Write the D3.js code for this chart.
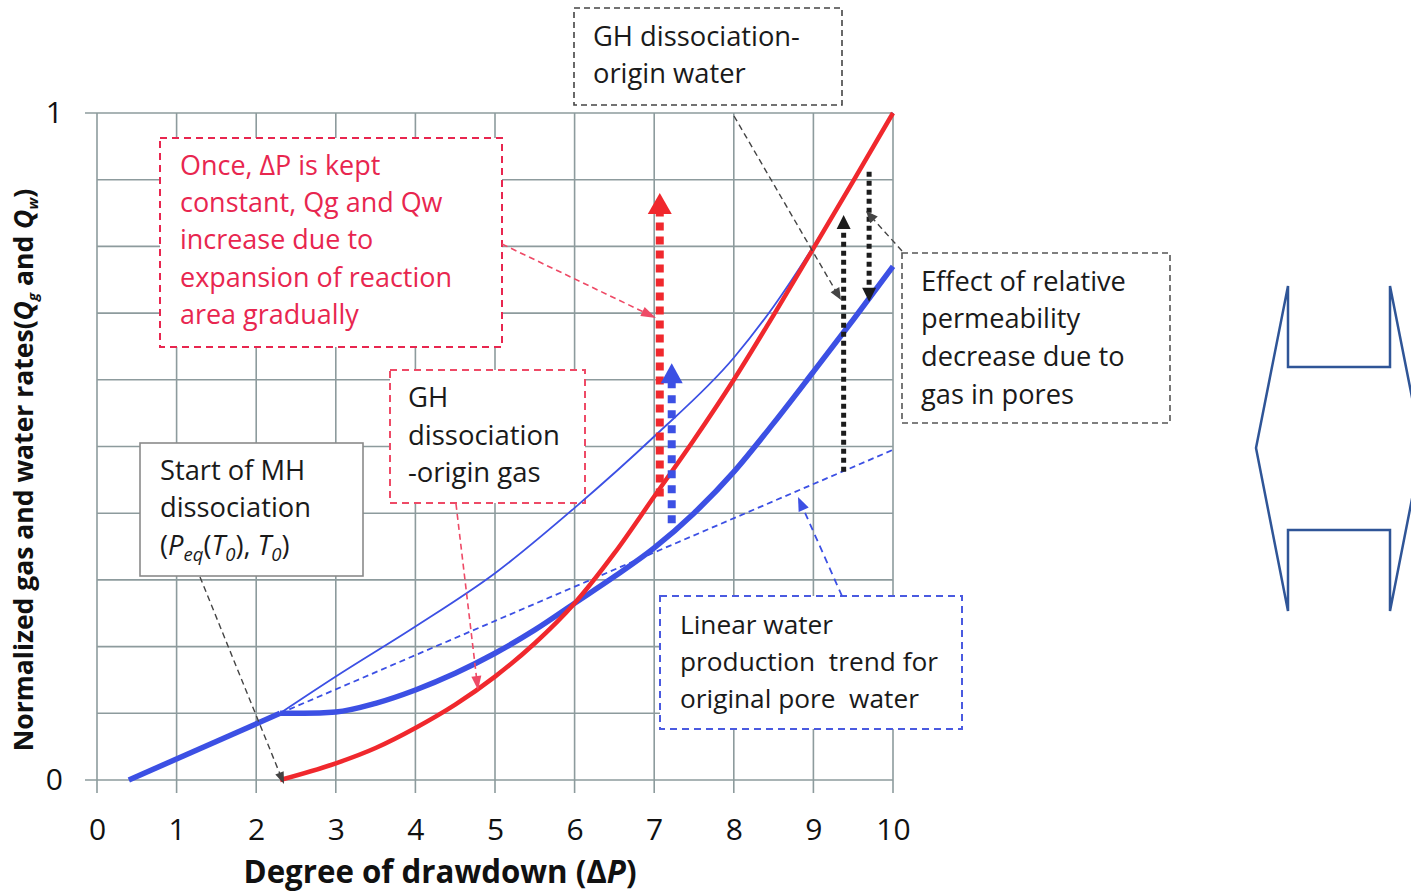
<!DOCTYPE html>
<html><head><meta charset="utf-8">
<script src="https://cdn.jsdelivr.net/npm/d3@7"></script>
<style>body{margin:0;background:#fff;} svg{display:block;} text{font-family:"Open Sans", Lato, sans-serif;}</style>
</head><body>
<script>
// ---------- data ----------
const xTicks = [0,1,2,3,4,5,6,7,8,9,10];
const yTicks = [0,0.1,0.2,0.3,0.4,0.5,0.6,0.7,0.8,0.9,1];
const yTickLabels = [0,1];

// gas rate (red thick)
const gasX = [2.3, 3, 3.5, 4, 4.5, 5, 5.5, 6, 6.5, 7, 7.5, 8, 8.5, 9, 9.5, 10];
const gasY = [0, 0.025, 0.048, 0.078, 0.113, 0.155, 0.205, 0.265, 0.34, 0.425, 0.51, 0.6, 0.697, 0.797, 0.898, 1.0];
// water before dissociation (blue thick straight)
const waterPreX = [0.4, 2.3];
const waterPreY = [0, 0.1];
// water rate (blue thick curve)
const waterX = [2.3, 2.6, 3, 3.5, 4, 4.5, 5, 5.5, 6, 6.5, 7, 7.5, 8, 8.5, 9, 9.5, 10];
const waterY = [0.1, 0.1, 0.102, 0.115, 0.135, 0.16, 0.19, 0.225, 0.265, 0.305, 0.348, 0.4, 0.462, 0.535, 0.612, 0.69, 0.77];
// water without relative permeability effect (thin blue)
const thinX = [2.3, 3, 4, 5, 6, 7, 8, 8.5, 9, 9.5, 10];
const thinY = [0.1, 0.155, 0.23, 0.31, 0.408, 0.515, 0.633, 0.71, 0.8, 0.9, 1.0];
// linear water trend (blue dashed)
const trendX = [2.3, 10];
const trendY = [0.1, 0.495];

// vertical dotted arrows
const vArrowX    = [7.07, 7.22, 9.38, 9.70];
const vArrowFrom = [0.425, 0.385, 0.462, 0.912];
const vArrowTo   = [0.88, 0.625, 0.847, 0.717];
const vArrowKind = ["red", "blue", "black", "black"];

// ---------- layout ----------
const W = 1411, H = 891;
const x = d3.scaleLinear().domain([0,10]).range([97, 893]);
const y = d3.scaleLinear().domain([0,1]).range([780, 113]);

const RED = "#f0282d", BLUE = "#3c50e4", GRID = "#8d9b9d", TXT_RED = "#e8264f";
const FONT = '"Open Sans", Lato, sans-serif';

const svg = d3.select("body").append("svg").attr("width", W).attr("height", H);

// fit a text element to a target width by adjusting its font-size
function fitSize(sel, target) {
  const fs = +sel.attr("font-size");
  const len = sel.node().getComputedTextLength();
  const nf = fs * target / len;
  sel.attr("font-size", nf);
  return nf;
}

// grid
const grid = svg.append("g");
grid.selectAll("line.v").data(xTicks).join("line")
  .attr("x1", d => x(d)).attr("x2", d => x(d))
  .attr("y1", y(1)).attr("y2", y(0) + 13)
  .attr("stroke", GRID).attr("stroke-width", 1.6);
grid.selectAll("line.h").data(yTicks).join("line")
  .attr("x1", d => (d === 0 || d === 1) ? x(0) - 12 : x(0)).attr("x2", x(10))
  .attr("y1", d => y(d)).attr("y2", d => y(d))
  .attr("stroke", GRID).attr("stroke-width", 1.6);

// axes labels
const xAxis = svg.append("g").attr("transform", `translate(0,${y(0)})`)
  .call(d3.axisBottom(x).tickValues(xTicks).tickSize(0).tickPadding(39).tickFormat(d3.format("d")));
xAxis.select(".domain").remove();
xAxis.selectAll("text").attr("font-size", 30).attr("fill", "#111").attr("font-family", FONT);

const yAxis = svg.append("g").attr("transform", `translate(${x(0)},0)`)
  .call(d3.axisLeft(y).tickValues(yTickLabels).tickSize(0).tickPadding(34).tickFormat(d3.format("d")));
yAxis.select(".domain").remove();
yAxis.selectAll("text").attr("font-size", 30).attr("fill", "#111").attr("font-family", FONT);

// axis titles
const xt = svg.append("text").attr("x", 440).attr("y", 883).attr("text-anchor", "middle")
  .attr("font-size", 26).attr("font-weight", "bold").attr("fill", "#111");
xt.append("tspan").text("Degree of drawdown (\u0394");
xt.append("tspan").attr("font-style", "italic").text("P");
xt.append("tspan").text(")");
fitSize(xt, 393);

const yt = svg.append("text").attr("transform", "translate(33,470) rotate(-90)").attr("text-anchor", "middle")
  .attr("font-size", 21).attr("font-weight", "bold").attr("fill", "#111");
yt.append("tspan").text("Normalized gas and water rates(");
yt.append("tspan").attr("font-style", "italic").text("Q");
yt.append("tspan").attr("font-style", "italic").attr("font-size", 15).attr("dy", 5).text("g");
yt.append("tspan").attr("dy", -5).text(" and ");
yt.append("tspan").attr("font-style", "italic").text("Q");
yt.append("tspan").attr("font-style", "italic").attr("font-size", 15).attr("dy", 5).text("w");
yt.append("tspan").attr("dy", -5).text(")");
fitSize(yt, 568);

// ---------- boxes ----------
function box(x0, y0, x1, y1, stroke, dash, sw) {
  svg.append("rect").attr("x", x0).attr("y", y0).attr("width", x1 - x0).attr("height", y1 - y0)
    .attr("fill", "#fff").attr("stroke", stroke).attr("stroke-width", sw || 1.8)
    .attr("stroke-dasharray", dash || null);
}
// draws lines; fits font so that line `refIdx` has width `target`
function lines(x0, baselines, strs, color, refIdx, target) {
  const els = strs.map((s, i) => svg.append("text").attr("x", x0).attr("y", baselines[i])
    .attr("font-size", 23).attr("fill", color).text(s));
  const fs = fitSize(els[refIdx], target);
  els.forEach(e => e.attr("font-size", fs));
  return fs;
}
box(160, 138, 502, 347, TXT_RED, "7,5", 2);
lines(180, [175, 212, 249, 287, 324], ["Once, \u0394P is kept", "constant, Qg and Qw", "increase due to", "expansion of reaction", "area gradually"], TXT_RED, 3, 272);

box(390, 370, 585, 503, "#ee4a66", "7,5", 2);
lines(408, [407, 445, 482], ["GH", "dissociation", "-origin gas"], "#1a1a1a", 1, 152);

box(140, 443, 363, 576, "#8a8a8a", null, 1.6);
const sfs = lines(160, [480, 517], ["Start of MH", "dissociation"], "#1a1a1a", 1, 151);
const st = svg.append("text").attr("x", 160).attr("y", 555).attr("font-size", sfs).attr("fill", "#1a1a1a");
st.append("tspan").text("(");
st.append("tspan").attr("font-style", "italic").text("P");
st.append("tspan").attr("font-style", "italic").attr("font-size", sfs * 0.68).attr("dy", 6).text("eq");
st.append("tspan").attr("dy", -6).text("(");
st.append("tspan").attr("font-style", "italic").text("T");
st.append("tspan").attr("font-style", "italic").attr("font-size", sfs * 0.68).attr("dy", 6).text("0");
st.append("tspan").attr("dy", -6).text("), ");
st.append("tspan").attr("font-style", "italic").text("T");
st.append("tspan").attr("font-style", "italic").attr("font-size", sfs * 0.68).attr("dy", 6).text("0");
st.append("tspan").attr("dy", -6).text(")");

box(574, 8, 842, 105, "#444", "6,4", 1.6);
lines(593, [46, 83], ["GH dissociation-", "origin water"], "#1a1a1a", 0, 207);

box(902, 253, 1170, 423, "#555", "6,4", 1.6);
lines(921, [291, 328, 366, 404], ["Effect of relative", "permeability", "decrease due to", "gas in pores"], "#1a1a1a", 0, 205);

box(660, 596, 962, 729, "#4a5ae0", "7,5", 2);
lines(680, [634, 671, 708], ["Linear water", "production\u00a0 trend for", "original pore\u00a0 water"], "#1a1a1a", 1, 258);

// ---------- curves ----------
const line = d3.line().x(d => x(d[0])).y(d => y(d[1])).curve(d3.curveMonotoneX);
const zip = (a, b) => a.map((v, i) => [v, b[i]]);

svg.append("path").datum(zip(trendX, trendY)).attr("d", line)
  .attr("fill", "none").attr("stroke", BLUE).attr("stroke-width", 1.8).attr("stroke-dasharray", "6,4");
svg.append("path").datum(zip(thinX, thinY)).attr("d", line)
  .attr("fill", "none").attr("stroke", BLUE).attr("stroke-width", 1.8);
svg.append("path").datum(zip(waterPreX, waterPreY)).attr("d", line)
  .attr("fill", "none").attr("stroke", BLUE).attr("stroke-width", 5.5);
svg.append("path").datum(zip(waterX, waterY)).attr("d", line)
  .attr("fill", "none").attr("stroke", BLUE).attr("stroke-width", 5.5);
svg.append("path").datum(zip(gasX, gasY)).attr("d", line)
  .attr("fill", "none").attr("stroke", RED).attr("stroke-width", 4.5);

// ---------- arrows ----------
function head(tx, ty, fx, fy, len, wid, color) {
  const dx = tx - fx, dy = ty - fy, L = Math.hypot(dx, dy);
  const ux = dx / L, uy = dy / L, px = -uy, py = ux;
  const bx = tx - ux * len, by = ty - uy * len;
  svg.append("path")
    .attr("d", `M${tx},${ty}L${bx + px * wid / 2},${by + py * wid / 2}L${bx - px * wid / 2},${by - py * wid / 2}Z`)
    .attr("fill", color);
}
const vStyle = {
  red:   {color: RED,  sw: 8, dash: "8,6", hl: 21, hw: 24},
  blue:  {color: BLUE, sw: 8, dash: "8,7", hl: 20, hw: 22},
  black: {color: "#1c1c1c", sw: 5, dash: "5,4", hl: 14, hw: 14}
};
vArrowX.forEach((vx, i) => {
  const s = vStyle[vArrowKind[i]];
  const X = x(vx), y0 = y(vArrowFrom[i]), y1 = y(vArrowTo[i]);
  const dir = Math.sign(y1 - y0);
  svg.append("line").attr("x1", X).attr("x2", X).attr("y1", y0).attr("y2", y1 - dir * (s.hl - 2))
    .attr("stroke", s.color).attr("stroke-width", s.sw).attr("stroke-dasharray", s.dash);
  head(X, y1, X, y0, s.hl, s.hw, s.color);
});

function leader(fx, fy, tx, ty, color, sw, dash, hl, hw) {
  const L = Math.hypot(tx - fx, ty - fy);
  const ex = tx - (tx - fx) / L * (hl - 2), ey = ty - (ty - fy) / L * (hl - 2);
  svg.append("line").attr("x1", fx).attr("y1", fy).attr("x2", ex).attr("y2", ey)
    .attr("stroke", color).attr("stroke-width", sw).attr("stroke-dasharray", dash);
  head(tx, ty, fx, fy, hl, hw, color);
}
leader(502, 244, 656, 318, "#ee4a66", 1.6, "6,4", 15, 10);
leader(456, 504, 478, 690, "#ee4a66", 1.6, "6,4", 14, 10);
leader(200, 577, 284, 784, "#444", 1.4, "6,4", 12, 9);
leader(734, 116, 841, 300, "#444", 1.4, "6,4", 12, 10);
leader(902, 251, 866, 211, "#444", 1.4, "6,4", 12, 10);
leader(842, 596, 798, 497, BLUE, 1.8, "7,5", 14, 11);

// ---------- right-hand double arrow shape ----------
const shapePts = [[1288,286],[1288,367],[1390,367],[1390,286],[1422,448],[1390,611],[1390,530],[1288,530],[1288,611],[1256,448]];
svg.append("path").attr("d", "M" + shapePts.map(p => p.join(",")).join("L") + "Z")
  .attr("fill", "none").attr("stroke", "#2f5597").attr("stroke-width", 2.5);
</script>
</body></html>
